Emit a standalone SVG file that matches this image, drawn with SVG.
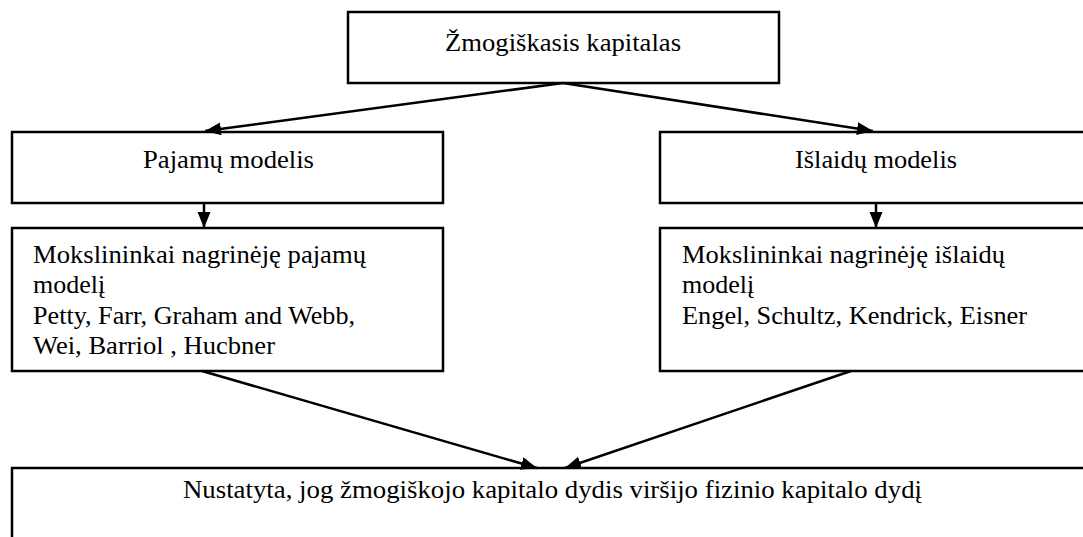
<svg xmlns="http://www.w3.org/2000/svg" width="1083" height="537" viewBox="0 0 1083 537">
<defs>
<marker id="ah" markerUnits="userSpaceOnUse" markerWidth="17" markerHeight="14" refX="16" refY="6.5" orient="auto">
<path d="M0,0 L16,6.5 L0,13 Z" fill="#000"/>
</marker>
<style>
.box{fill:#fff;stroke:#000;stroke-width:2.5}
.t{font-family:'Liberation Serif','Times New Roman',Times,serif;font-size:26px;fill:#000}
.c{stroke:#000;stroke-width:2.5;fill:none;marker-end:url(#ah)}
</style>
</defs>
<rect width="1083" height="537" fill="#fff"/>
<g id="n-top">
<rect class="box" x="348" y="12" width="431" height="71"/>
<text class="t" font-family="Liberation Serif, serif" x="445" y="51" textLength="236" lengthAdjust="spacingAndGlyphs">Žmogiškasis kapitalas</text>
</g>
<g id="n-pajamu">
<rect class="box" x="12" y="132" width="431" height="71"/>
<text class="t" font-family="Liberation Serif, serif" x="143" y="168" textLength="171" lengthAdjust="spacingAndGlyphs">Pajamų modelis</text>
</g>
<g id="n-islaidu">
<rect class="box" x="660" y="132" width="432" height="71"/>
<text class="t" font-family="Liberation Serif, serif" x="795" y="168" textLength="162" lengthAdjust="spacingAndGlyphs">Išlaidų modelis</text>
</g>
<g id="n-moksl-paj">
<rect class="box" x="12" y="228" width="431" height="143"/>
<text class="t" font-family="Liberation Serif, serif" x="33" y="263" textLength="333" lengthAdjust="spacingAndGlyphs">Mokslininkai nagrinėję pajamų</text>
<text class="t" font-family="Liberation Serif, serif" x="33" y="293">modelį</text>
<text class="t" font-family="Liberation Serif, serif" x="33" y="324" textLength="322" lengthAdjust="spacingAndGlyphs">Petty, Farr, Graham and Webb,</text>
<text class="t" font-family="Liberation Serif, serif" x="33" y="354" textLength="242" lengthAdjust="spacingAndGlyphs">Wei, Barriol , Hucbner</text>
</g>
<g id="n-moksl-isl">
<rect class="box" x="660" y="228" width="432" height="143"/>
<text class="t" font-family="Liberation Serif, serif" x="682" y="263" textLength="323" lengthAdjust="spacingAndGlyphs">Mokslininkai nagrinėję išlaidų</text>
<text class="t" font-family="Liberation Serif, serif" x="682" y="293">modelį</text>
<text class="t" font-family="Liberation Serif, serif" x="682" y="324" textLength="345" lengthAdjust="spacingAndGlyphs">Engel, Schultz, Kendrick, Eisner</text>
</g>
<g id="n-result">
<rect class="box" x="12" y="468" width="1081" height="80"/>
<text class="t" font-family="Liberation Serif, serif" x="183" y="498" textLength="739" lengthAdjust="spacingAndGlyphs">Nustatyta, jog žmogiškojo kapitalo dydis viršijo fizinio kapitalo dydį</text>
</g>
<g id="connectors">
<line class="c" x1="563" y1="83" x2="205" y2="131"/>
<line class="c" x1="563" y1="83" x2="873" y2="131"/>
<line class="c" x1="204" y1="203" x2="204" y2="228"/>
<line class="c" x1="876" y1="203" x2="876" y2="228"/>
<line class="c" x1="202" y1="371" x2="537" y2="468"/>
<line class="c" x1="851" y1="371" x2="565" y2="468"/>
</g>
</svg>
